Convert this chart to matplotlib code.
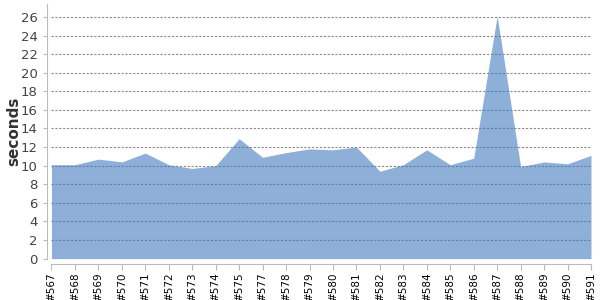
import matplotlib
matplotlib.use('Agg')
import matplotlib.pyplot as plt

# build labels and durations (seconds)
builds = ['#567', '#568', '#569', '#570', '#571', '#572', '#573', '#574', '#575',
          '#577', '#578', '#579', '#580', '#581', '#582', '#583', '#584', '#585',
          '#586', '#587', '#588', '#589', '#590', '#591']
seconds = [10.1, 10.1, 10.7, 10.4, 11.35, 10.1, 9.7, 10.0, 12.9,
           10.9, 11.4, 11.8, 11.7, 12.0, 9.4, 10.1, 11.7, 10.1,
           10.8, 26.1, 9.9, 10.4, 10.2, 11.1]
y_ticks = list(range(0, 27, 2))

fig = plt.figure(figsize=(6, 3), dpi=100)
ax = fig.add_axes([0.085, 0.138, 0.9, 0.849])

# spines first: set_position resets the tick label styling
for s in ['top', 'right']:
    ax.spines[s].set_visible(False)
ax.spines['left'].set_color('#bbbbbb')
ax.spines['bottom'].set_color('#bbbbbb')
ax.spines['left'].set_position(('outward', 3))
ax.spines['bottom'].set_position(('outward', 4))

x = list(range(len(builds)))
ax.fill_between(x, seconds, 0, color='#427bbe', alpha=0.6, linewidth=0, zorder=1)

ax.set_xlim(-0.02, len(builds) - 1)
ax.set_ylim(0, 27.4)
ax.set_yticks(y_ticks)
ax.set_xticks(x)
ax.set_xticklabels(builds, rotation=90, fontsize=7.5, color='black')
ax.tick_params(axis='y', labelsize=9.5, labelcolor='#444444', color='#bbbbbb', length=3)
ax.tick_params(axis='x', color='#bbbbbb', length=4, pad=2)

ax.yaxis.grid(True, linestyle=(0, (2, 1.5)), color='#8a8a8a', linewidth=0.8, zorder=0)
ax.set_axisbelow(True)

ax.set_ylabel('seconds', fontsize=11, fontweight='bold', color='#333333', labelpad=0)

plt.savefig('out.png', dpi=100)
